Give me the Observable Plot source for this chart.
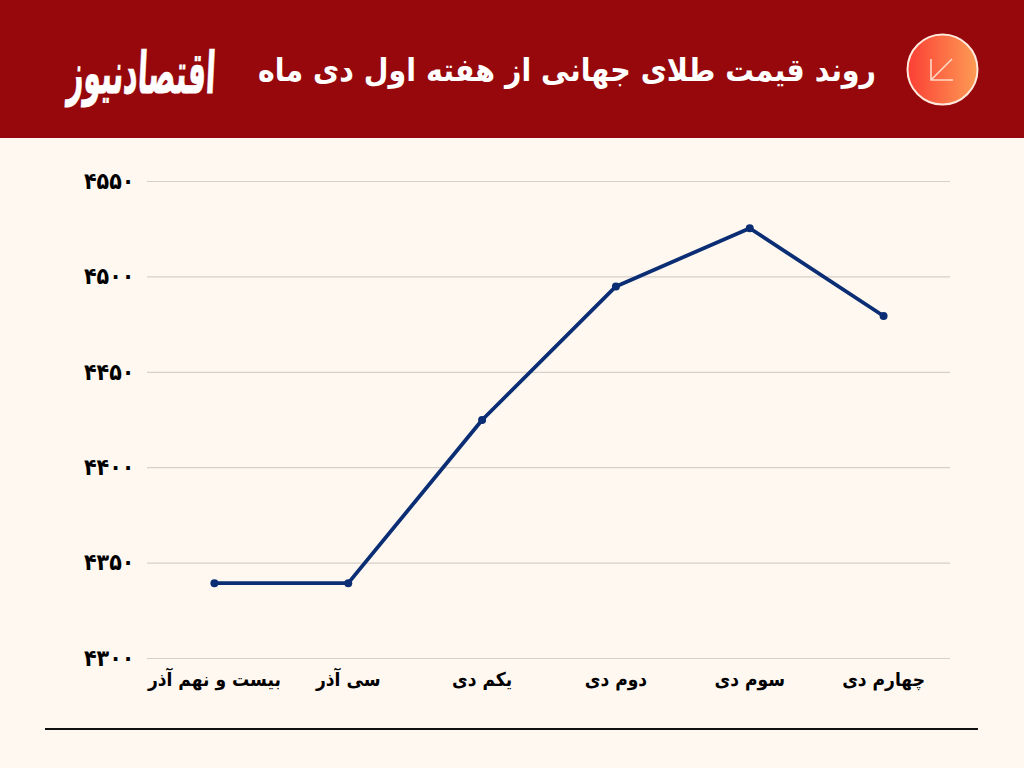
<!DOCTYPE html>
<html lang="fa"><head><meta charset="utf-8">
<script src="https://cdn.jsdelivr.net/npm/d3@7"></script>
<script src="https://cdn.jsdelivr.net/npm/@observablehq/plot@0.6"></script>
<style>
html,body{margin:0;padding:0;background:#fff8f1;width:1024px;height:768px;overflow:hidden}
#wrap{position:relative;width:1024px;height:768px;font-family:"DejaVu Sans Condensed","DejaVu Sans",sans-serif}
#header{position:absolute;left:0;top:0;width:1024px;height:138px;background:#97080c}
#title{position:absolute;right:148px;top:47px;direction:rtl;color:#fff;font-weight:700;font-size:31.7px;line-height:46px;white-space:nowrap}
#logo{position:absolute;left:-8px;top:32px;width:300px;height:80px;color:#fff;font-weight:700;font-size:36px;line-height:80px;direction:rtl;text-align:center;white-space:nowrap;font-family:"DejaVu Serif","DejaVu Sans",serif}
#logo span{display:inline-block;transform:scaleX(.78) scaleY(1.6) skewX(-6deg);-webkit-text-stroke:.6px #fff}
#icon{position:absolute;left:906px;top:33px}
#chart{position:absolute;left:0;top:138px}
#foot{position:absolute;left:45px;top:728px;width:933px;height:2px;background:#111}
svg text{font-family:"DejaVu Sans Condensed","DejaVu Sans",sans-serif}
</style></head><body>
<div id="wrap">
<div id="header">
 <div id="logo"><span>اقتصادنیوز</span></div>
 <div id="title">روند قیمت طلای جهانی از هفته اول دی ماه</div>
 <svg id="icon" width="73" height="73" viewBox="0 0 73 73">
  <defs><linearGradient id="g" x1="0" x2="1" y1="0" y2="0"><stop offset="0" stop-color="#fb3f35"/><stop offset="1" stop-color="#fd9c55"/></linearGradient></defs>
  <circle cx="36.5" cy="36.5" r="35" fill="url(#g)" stroke="#ffe9dc" stroke-width="2"/>
  <path d="M46 26 L26 46 M25 26 V47 H47" fill="none" stroke="#ffd9c8" stroke-width="1.6"/>
 </svg>
</div>
<div id="chart"></div>
<div id="foot"></div>
</div>
<script>
const days = ["بیست و نهم آذر","سی آذر","یکم دی","دوم دی","سوم دی","چهارم دی"];
const prices = [4339.5,4339.5,4425,4495,4525.5,4479.5];
const yTicks = [4300,4350,4400,4450,4500,4550];
const yTickLabels = ["۴۳۰۰","۴۳۵۰","۴۴۰۰","۴۴۵۰","۴۵۰۰","۴۵۵۰"];
const rows = days.map((d,i)=>({day:d,price:prices[i]}));
const plot = Plot.plot({
  width:1024,height:630,
  marginTop:43,marginBottom:110,marginLeft:147,marginRight:74,
  style:{background:"transparent",overflow:"visible"},
  x:{type:"point",domain:days,padding:.5,round:false,label:null},
  y:{domain:[4300,4550],label:null},
  marks:[
    Plot.ruleY(yTicks,{stroke:"#d6d0c9",strokeWidth:1.2}),
    Plot.axisY({ticks:yTicks,tickSize:0,tickPadding:13,tickFormat:v=>yTickLabels[yTicks.indexOf(v)],fontSize:23,fontWeight:700,fill:"#000",label:null,textAnchor:"end"}),
    Plot.axisX({tickSize:0,tickPadding:14,fontSize:19,fontWeight:700,fill:"#000",label:null}),
    Plot.line(rows,{x:"day",y:"price",stroke:"#0a2d74",strokeWidth:3.8,curve:"linear"}),
    Plot.dot(rows,{x:"day",y:"price",r:4,fill:"#0a2d74",stroke:"none"})
  ]
});
document.getElementById("chart").appendChild(plot);
</script>
</body></html>
